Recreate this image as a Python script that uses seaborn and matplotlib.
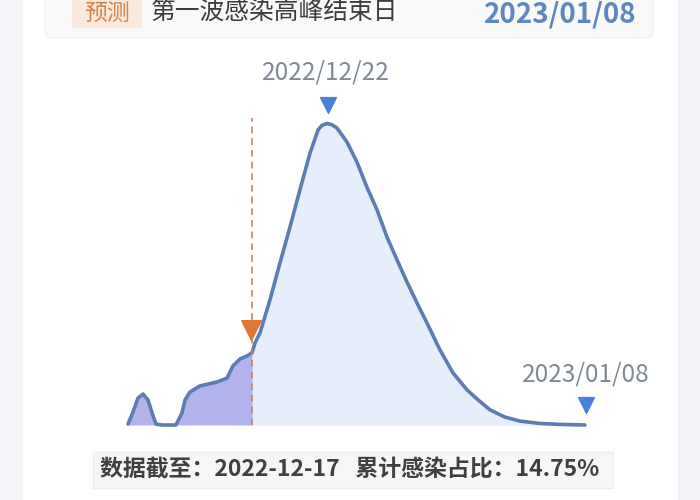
import matplotlib.pyplot as plt
import numpy as np
import seaborn as sns
from matplotlib.patches import FancyBboxPatch, Rectangle

# day index counted from 2022-12-01 (day 17 = 2022-12-17)
days = [
    8.80, 9.13, 9.46, 9.79, 10.12, 10.39, 10.65, 11.05, 11.97, 12.37,
    12.57, 12.90, 13.56, 14.69, 15.35, 15.74, 16.21, 16.67, 17.00, 17.20,
    17.53, 18.19, 18.85, 19.51, 20.17, 20.84, 21.37, 21.63, 21.96, 22.29,
    22.62, 23.28, 23.94, 24.60, 25.27, 25.93, 26.59, 27.25, 27.91, 28.57,
    29.43, 30.29, 31.22, 31.95, 32.74, 33.73, 34.72, 36.05, 37.37, 39.02,
]
# infection level, peak = 100
level = [
    0.3, 4.3, 8.9, 10.2, 8.3, 4.0, 0.3, 0.0, 0.0, 4.0,
    8.3, 10.9, 12.9, 14.2, 15.5, 19.5, 21.8, 22.8, 23.8, 27.1,
    30.4, 41.3, 53.5, 65.3, 77.6, 89.8, 97.4, 98.9, 99.5, 99.1,
    98.0, 93.4, 86.8, 78.5, 71.0, 62.0, 54.5, 47.2, 40.3, 33.7,
    24.8, 17.2, 11.6, 8.3, 5.0, 2.6, 1.3, 0.5, 0.2, 0.0,
]
data_day = 17.0
peak_day = 22.0
end_day = 39.0
peak_label = "2022/12/22"
end_label = "2023/01/08"
header_tag = "预测"
header_title = "第一波感染高峰结束日"
header_date = "2023/01/08"
footer_text = "数据截至：2022-12-17   累计感染占比：14.75%"

sns.set_theme(style="white")
plt.rcParams["font.family"] = ["Noto Sans CJK SC", "DejaVu Sans"]

line_color = "#5b7db0"
fill_light = "#e7eefb"
fill_dark = "#b2b3ea"
marker_blue = "#4a80dc"
label_grey = "#7d8a96"

fig = plt.figure(figsize=(7, 5), dpi=100)
fig.patch.set_facecolor("white")

# decoration layer in pixel coordinates
deco = fig.add_axes([0, 0, 1, 1], zorder=0)
deco.set_xlim(0, 700)
deco.set_ylim(500, 0)
deco.axis("off")
deco.add_patch(Rectangle((0, 0), 23, 500, color="#f3f5f8", lw=0))
deco.add_patch(Rectangle((678, 0), 22, 500, color="#f1f3f6", lw=0))
deco.add_patch(FancyBboxPatch((45, -20), 608, 58, boxstyle="round,pad=0,rounding_size=8",
                              fc="#f9f9fa", ec="#f1f1f3", lw=1))
deco.add_patch(FancyBboxPatch((72, -10), 70, 38, boxstyle="round,pad=0,rounding_size=4",
                              fc="#fbe9dd", ec="none"))
deco.text(107, 13, header_tag, color="#d38550", fontsize=16.5, ha="center", va="center")
deco.text(151, 13, header_title, color="#3d3d3d", fontsize=17.8, ha="left", va="center")
deco.text(636, 15, header_date, color="#5f87bf", fontsize=20, fontweight="bold",
          ha="right", va="center")
deco.add_patch(Rectangle((93, 452), 520, 36, fc="#f5f6f8", ec="#eceef1", lw=1))
deco.text(100, 469, footer_text, color="#404040", fontsize=16.5, fontweight="bold",
          ha="left", va="center")

# chart layer, positioned so data units land on the reference pixels
ax = fig.add_axes([0, 0, 1, 1], zorder=1)
ax.patch.set_alpha(0)
px_per_day = 15.12
ax.set_xlim(data_day - 252 / px_per_day, data_day + 448 / px_per_day)
ax.set_ylim(-75 / 3.03, 425 / 3.03)
ax.axis("off")

d = np.array(days)
v = np.array(level)
ax.fill_between(d, 0, v, where=d >= data_day, color=fill_light, lw=0, interpolate=True)
ax.fill_between(d, 0, v, where=d <= data_day, color=fill_dark, lw=0, interpolate=True)
sns.lineplot(x=days, y=level, ax=ax, sort=False, estimator=None, color=line_color,
             linewidth=2.6, solid_capstyle="round", solid_joinstyle="round")

ax.plot([data_day, data_day], [0, 101.3], color="#c8865c", lw=1.2, ls=(0, (4, 3)))
ax.scatter([data_day - 0.07], [31.4], marker="v", s=200, color="#e07535", zorder=5)

ax.scatter([peak_day], [105.6], marker="v", s=130, color=marker_blue, zorder=5)
ax.text(peak_day - 0.1, 112, peak_label, color=label_grey, fontsize=17.5, ha="center", va="bottom")
ax.scatter([end_day + 0.1], [6.5], marker="v", s=130, color=marker_blue, zorder=5)
ax.text(end_day + 0.1, 12.5, end_label, color=label_grey, fontsize=17.5, ha="center", va="bottom")

fig.savefig("out.png", dpi=100)
